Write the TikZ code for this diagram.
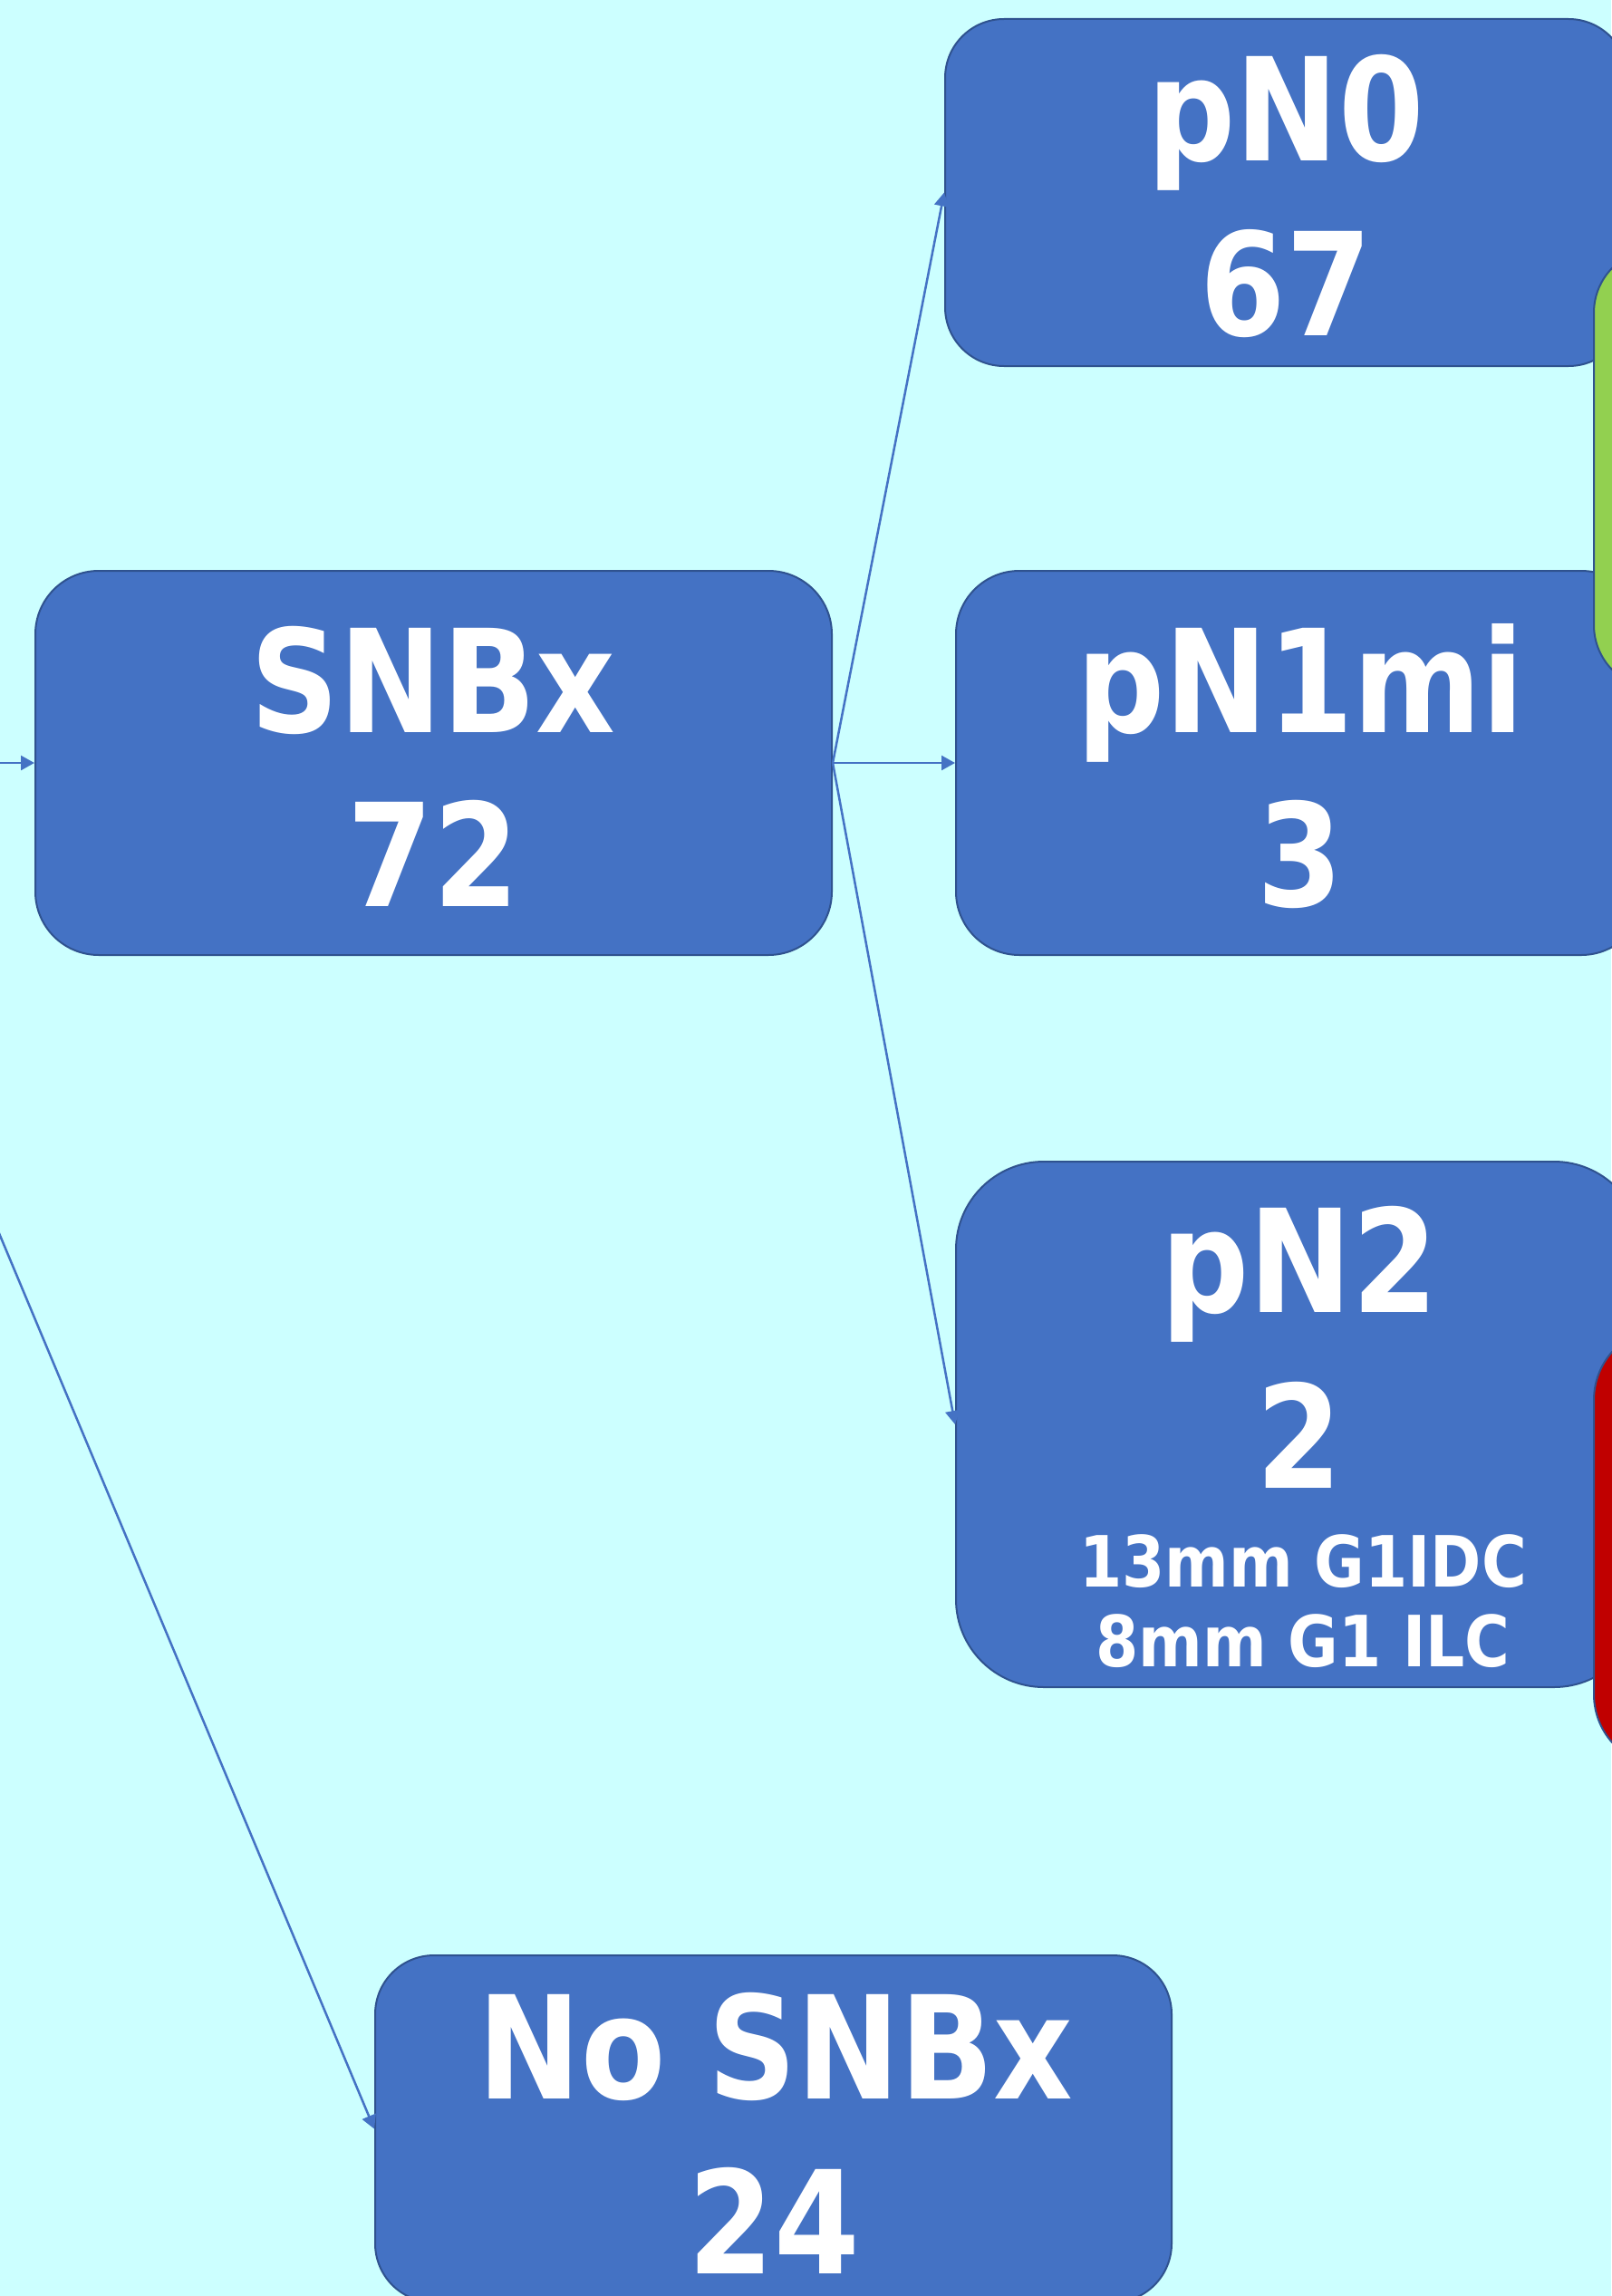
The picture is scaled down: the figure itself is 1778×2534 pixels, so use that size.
\documentclass[tikz,border=0pt]{standalone}
\usepackage{fontspec}
\newfontfamily\bigfont[FakeStretch=0.86]{DejaVu Sans}
\newfontfamily\smallfont[FakeStretch=0.87]{DejaVu Sans}
\usetikzlibrary{arrows.meta}
\definecolor{bgc}{HTML}{CCFFFF}
\definecolor{boxc}{HTML}{4472C4}
\definecolor{bordc}{HTML}{2F528F}
\definecolor{greenc}{HTML}{92D050}
\definecolor{redc}{HTML}{C00000}
\tikzset{
  box/.style={draw=bordc, line width=2pt, fill=boxc, inner sep=0pt, rectangle},
  bigtxt/.style={text=white, inner sep=0pt, anchor=base, font=\bigfont\bfseries\fontsize{158}{190}\selectfont},
  smalltxt/.style={text=white, inner sep=0pt, anchor=base, font=\smallfont\bfseries\fontsize{78}{89}\selectfont},
  conn/.style={draw=boxc, line width=2.5pt, -{Triangle[length=15pt,width=16pt]}}
}
\begin{document}
\begin{tikzpicture}[x=1pt,y=-1pt]
\useasboundingbox (0,0) rectangle (1778,2534);
\fill[bgc] (0,0) rectangle (1778,2534);
% boxes
\node[box, rounded corners=65pt, minimum width=753pt, minimum height=383pt] (pn0) at (1419.5,212.5) {};
\node[box, rounded corners=70pt, minimum width=760pt, minimum height=424pt] (pn1) at (1435,842) {};
\node[box, rounded corners=97pt, minimum width=757pt, minimum height=580pt] (pn2) at (1433.5,1572) {};
\node[box, rounded corners=70pt, minimum width=879pt, minimum height=424pt] (snbx) at (478.5,842) {};
\node[box, rounded corners=65pt, minimum width=879pt, minimum height=383pt] (nosnbx) at (853.5,2349.5) {};
\node[box, fill=greenc, rounded corners=70pt, minimum width=200pt, minimum height=485pt] (green) at (1859,517.5) {};
\node[box, fill=redc, rounded corners=80pt, minimum width=200pt, minimum height=485pt] (red) at (1859,1707.5) {};
% texts
\node[bigtxt] (pn0a) at (1419,178) {pN0};
\node[bigtxt] (pn0b) at (1419,370) {67};
\node[bigtxt] (pn1a) at (1435,808) {pN1mi};
\node[bigtxt] (pn1b) at (1435,1000) {3};
\node[bigtxt] (pn2a) at (1434,1448) {pN2};
\node[bigtxt] (pn2b) at (1434,1642) {2};
\node[smalltxt] (pn2c) at (1438,1751) {13mm G1IDC};
\node[smalltxt] (pn2d) at (1438,1839) {8mm G1 ILC};
\node[bigtxt] (snbxa) at (478,808) {SNBx};
\node[bigtxt] (snbxb) at (478,1000) {72};
\node[bigtxt] (nosnbxa) at (856,2316) {No SNBx};
\node[bigtxt] (nosnbxb) at (854,2509) {24};
% connectors
\coordinate (inA) at (-30,842);
\coordinate (inB) at (-40,1268);
\draw[conn] (inA) -- (snbx.west);
\draw[conn] (inB) -- (nosnbx.west);
\draw[conn] (snbx.east) -- (pn0.west);
\draw[conn] (snbx.east) -- (pn1.west);
\draw[conn] (snbx.east) -- (pn2.west);
\end{tikzpicture}
\end{document}
